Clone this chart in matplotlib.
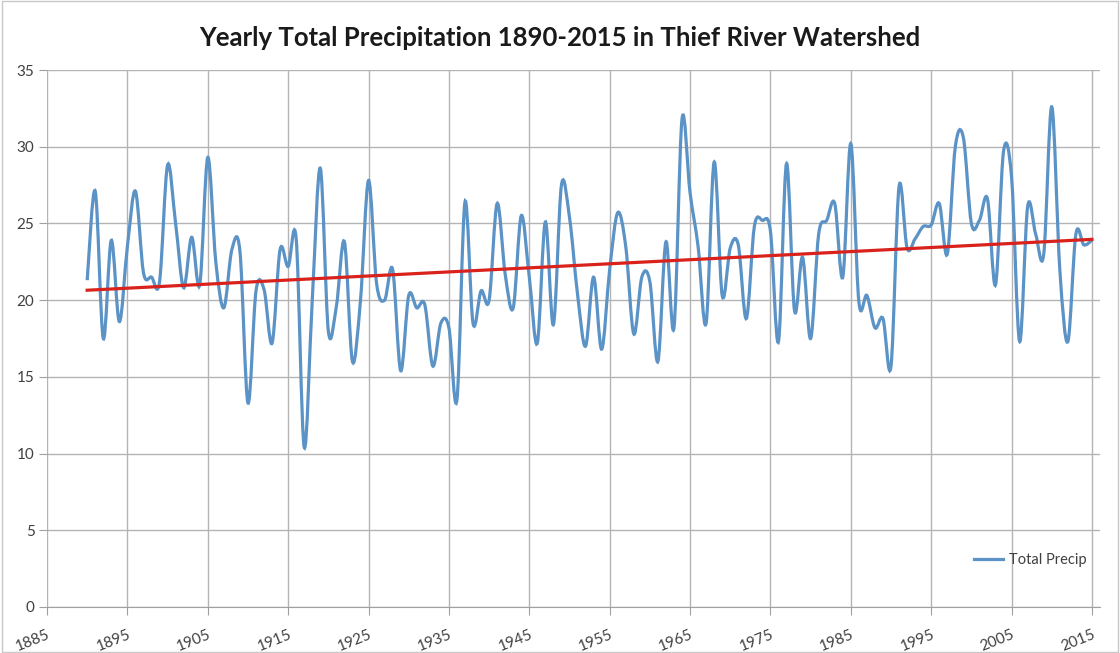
import numpy as np
import matplotlib
matplotlib.use("Agg")
from matplotlib import pyplot as plt
from matplotlib.path import Path
from matplotlib.patches import PathPatch
from matplotlib.lines import Line2D

plt.rcParams['font.family'] = ['Lato', 'DejaVu Sans']

years = np.arange(1890, 2016)
precip = [
    21.3, 27.1, 17.5, 23.9, 18.6, 23.5, 27.1, 21.8, 21.5, 21.2,   # 1890s
    28.8, 25.0, 20.8, 24.1, 21.0, 29.3, 22.5, 19.5, 23.3, 23.2,   # 1900s
    13.3, 20.6, 20.7, 17.2, 23.3, 22.2, 24.0, 10.4, 20.0, 28.6,   # 1910s
    18.0, 19.6, 23.8, 16.0, 20.0, 27.8, 21.1, 20.0, 22.0, 15.4,   # 1920s
    20.3, 19.5, 19.7, 15.7, 18.5, 18.2, 13.5, 26.4, 18.5, 20.6,   # 1930s
    20.0, 26.3, 21.7, 19.5, 25.5, 21.5, 17.2, 25.1, 18.4, 27.5,   # 1940s
    25.4, 20.4, 17.0, 21.5, 16.8, 22.0, 25.7, 23.5, 17.8, 21.5,   # 1950s
    21.2, 16.0, 23.8, 18.2, 31.8, 27.0, 23.5, 18.5, 29.0, 20.3,   # 1960s
    23.4, 23.6, 18.8, 24.8, 25.2, 24.5, 17.3, 28.9, 19.3, 22.8,   # 1970s
    17.5, 24.3, 25.2, 26.3, 21.5, 30.2, 19.9, 20.3, 18.2, 18.8,   # 1980s
    15.7, 27.4, 23.4, 24.0, 24.8, 24.9, 26.3, 23.0, 30.0, 30.6,   # 1990s
    25.0, 25.2, 26.6, 21.0, 29.7, 28.0, 17.3, 26.1, 24.3, 23.0,   # 2000s
    32.6, 22.0, 17.3, 24.3, 23.6, 23.9,                           # 2010s
]
x_ticks = np.arange(1885, 2016, 10)
y_ticks = np.arange(0, 36, 5)


def smooth_path(xs, ys):
    # Excel-style smoothed line: cubic Bezier through every point
    pts = np.column_stack([xs, ys]).astype(float)
    verts = [pts[0]]
    codes = [Path.MOVETO]
    n = len(pts)
    for i in range(n - 1):
        p0 = pts[max(i - 1, 0)]
        p1 = pts[i]
        p2 = pts[i + 1]
        p3 = pts[min(i + 2, n - 1)]
        c1 = p1 + (p2 - p0) / 6.0
        c2 = p2 - (p3 - p1) / 6.0
        verts += [c1, c2, p2]
        codes += [Path.CURVE4] * 3
    return Path(verts, codes)


fig = plt.figure(figsize=(11.2, 6.53), dpi=100)
ax = fig.add_axes([47 / 1120, 1 - 607 / 653, (1100 - 47) / 1120, (607 - 70) / 653])

line_col = '#5b93c7'
ax.add_patch(PathPatch(smooth_path(years, precip), facecolor='none',
                       edgecolor=line_col, lw=2.3, zorder=3))

coef = np.polyfit(years, precip, 1)
ax.plot(years, np.polyval(coef, years), color='#d9221c', lw=2.3, zorder=4)

ax.set_xlim(1885, 2016)
ax.set_ylim(0, 35)
ax.set_xticks(x_ticks)
ax.set_yticks(y_ticks)
ax.grid(True, color='#b4b4b4', lw=1.0)
ax.set_axisbelow(True)
for s in ['top', 'right', 'left']:
    ax.spines[s].set_visible(False)
ax.spines['bottom'].set_color('#a0a0a0')
ax.tick_params(axis='x', length=6, color='#a0a0a0', labelsize=11,
               labelcolor='#404040', pad=9)
ax.tick_params(axis='y', length=6, color='#a0a0a0', labelsize=11,
               labelcolor='#404040', pad=3)
for lab in ax.get_xticklabels():
    lab.set_rotation(22)
    lab.set_horizontalalignment('right')
    lab.set_rotation_mode('anchor')

ax.legend([Line2D([0], [0], color=line_col, lw=2.3)], ['Total Precip'],
          loc='lower right', bbox_to_anchor=(1.0, 0.05), frameon=False,
          fontsize=10.5, handlelength=2.0, handletextpad=0.4, labelcolor='#404040')

fig.text(0.5, 1 - 38 / 653, 'Yearly Total Precipitation 1890-2015 in Thief River Watershed',
         ha='center', va='center', fontsize=18.5, fontweight='bold', color='#1a1a1a')

fig.patches.append(plt.Rectangle((0.002, 0.002), 0.996, 0.996, transform=fig.transFigure,
                                 fill=False, edgecolor='#c8c8c8', lw=1.0))

fig.savefig('out.png', dpi=100)
